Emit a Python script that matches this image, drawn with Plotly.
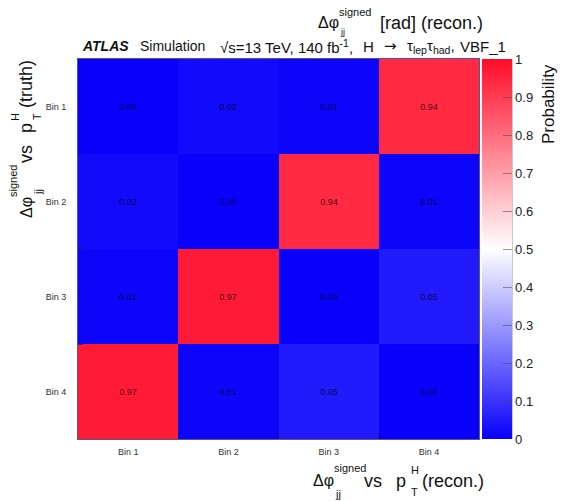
import plotly.graph_objects as go

# Migration matrix: rows = truth bin, columns = reconstructed bin
bins = ["Bin 1", "Bin 2", "Bin 3", "Bin 4"]
prob = [
    [0.00, 0.02, 0.01, 0.94],
    [0.02, 0.00, 0.94, 0.01],
    [0.01, 0.97, 0.00, 0.05],
    [0.97, 0.01, 0.05, 0.00],
]
cbar_ticks = [0, 0.1, 0.2, 0.3, 0.4, 0.5, 0.6, 0.7, 0.8, 0.9, 1]
cbar_ticktext = ["0", "0.1", "0.2", "0.3", "0.4", "0.5", "0.6", "0.7", "0.8", "0.9", "1"]

W, H = 564, 501
L, R, T, B = 78, 85, 59, 62
PW, PH = W - L - R, H - T - B
FONT = "Liberation Sans, Arial, Helvetica, sans-serif"

centers = [i + 0.5 for i in range(len(bins))]
edges = [i for i in range(1, len(bins))]

fig = go.Figure()
fig.add_trace(go.Heatmap(
    x=centers, y=centers, z=prob,
    zmin=0, zmax=1,
    colorscale=[[0.0, "rgb(8,0,250)"], [0.5, "rgb(255,255,255)"], [1.0, "rgb(255,12,40)"]],
    texttemplate="%{z:.2f}",
    textfont=dict(family=FONT, size=9, color="rgba(0,0,0,0.72)"),
    hoverinfo="skip",
    colorbar=dict(
        x=(482 - L) / PW, xanchor="left", xpad=0,
        y=0.5, yanchor="middle", len=1, lenmode="fraction", ypad=0,
        thickness=30, thicknessmode="pixels",
        outlinewidth=0,
        tickvals=cbar_ticks, ticktext=cbar_ticktext,
        ticks="inside", ticklen=9, tickwidth=1, tickcolor="rgba(70,70,90,0.55)",
        tickfont=dict(family=FONT, size=13, color="#222"),
    ),
))


def px(xp):
    return (xp - L) / PW


def py(yp):
    return (H - B - yp) / PH


def text(s, x, y, size, xanchor="left", angle=0, color="#111", family=FONT):
    fig.add_annotation(
        text=s, x=px(x), y=py(y), xref="paper", yref="paper",
        xanchor=xanchor, yanchor="middle", showarrow=False, textangle=angle,
        font=dict(family=family, size=size, color=color),
    )


MAIN, SYM, SCRIPT = 18, 16, 11

# Top axis title
text("Δφ", 316, 23, SYM)
text("signed", 337, 12, SCRIPT)
text("jj", 338, 32, 9)
text("[rad] (recon.)", 378, 23, MAIN)

# Header line
HDR = 15
text("<b><i>ATLAS</i></b>", 80, 46, 14)
text("Simulation", 138, 46, 14)
text("√s=13 TeV, 140 fb<sup>-1</sup>,", 218, 46, HDR)
text("H", 361, 46, HDR)
text("→", 382, 46, 15, family="DejaVu Sans")
text("τ<sub>lep</sub>τ<sub>had</sub>,", 405, 46, HDR)
text("VBF_1", 508, 46, HDR, xanchor="right")

# Bottom axis title
text("Δφ", 311, 481, SYM)
text("signed", 332, 468, SCRIPT)
text("jj", 333, 494, SCRIPT)
text("vs", 362, 481, MAIN)
text("p", 394, 481, MAIN)
text("H", 409, 470, SCRIPT)
text("T", 409, 492, SCRIPT)
text("(recon.)", 420, 481, MAIN)

# Left axis title (rotated)
text("Δφ", 26, 208, SYM, xanchor="center", angle=-90)
text("signed", 13, 181, SCRIPT, xanchor="center", angle=-90)
text("jj", 38, 192, SCRIPT, xanchor="center", angle=-90)
text("vs", 26, 154, MAIN, xanchor="center", angle=-90)
text("p", 26, 128, MAIN, xanchor="center", angle=-90)
text("H", 15, 117, SCRIPT, xanchor="center", angle=-90)
text("T", 37, 117, SCRIPT, xanchor="center", angle=-90)
text("(truth)", 26, 84, MAIN, xanchor="center", angle=-90)

# Colour bar title
text("Probability", 548, 104, 17, xanchor="center", angle=-90)

# Right edge line of the colour bar
fig.add_shape(type="line", xref="paper", yref="paper",
              x0=px(512), x1=px(512), y0=0, y1=1,
              line=dict(color="rgba(120,120,120,0.8)", width=1))

axis_common = dict(
    tickvals=centers, ticktext=bins, ticks="",
    tickfont=dict(family=FONT, size=9, color="#333"),
    showgrid=False, zeroline=False,
    showline=True, mirror=True, linecolor="rgba(50,40,110,0.8)", linewidth=1,
    minor=dict(tickvals=edges, ticks="inside", ticklen=5, tickcolor="rgba(30,30,60,0.7)", showgrid=False),
)
fig.update_xaxes(range=[0, 4], ticklabelstandoff=4, **axis_common)
fig.update_yaxes(range=[4, 0], ticklabelstandoff=9, **axis_common)

fig.update_layout(
    width=W, height=H,
    margin=dict(l=L, r=R, t=T, b=B),
    paper_bgcolor="white", plot_bgcolor="white",
    font=dict(family=FONT),
    showlegend=False,
)

fig.write_html("out.html")
